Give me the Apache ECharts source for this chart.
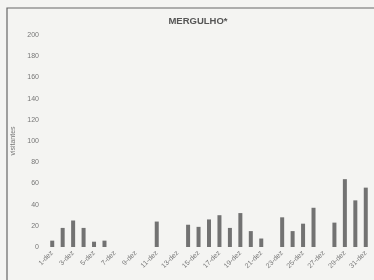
<!DOCTYPE html>
<html>
<head>
<meta charset="utf-8">
<script src="https://cdn.jsdelivr.net/npm/echarts@6/dist/echarts.min.js"></script>
<style>
html,body{margin:0;padding:0;background:#f4f4f2;}
#chart{width:374px;height:280px;}
</style>
</head>
<body>
<div id="chart"></div>
<script>
var days = [];
for (var d = 1; d <= 31; d++) { days.push(d + '-dez'); }
var visitantes = [6, 18, 25, 18, 5, 6, 0, 0, 0, 0, 24, 0, 0, 21, 19, 26, 30, 18, 32, 15, 8, 0, 28, 15, 22, 37, 0, 23, 64, 44, 56];
var yTicks = [0, 200, 20];

var myChart = echarts.init(document.getElementById('chart'));
var option = {
    backgroundColor: '#f4f4f2',
    animation: false,
    title: {
        text: 'MERGULHO*',
        left: 193,
        top: 11,
        textAlign: 'center',
        textStyle: { fontFamily: 'Liberation Sans', fontSize: 9.5, fontWeight: 'bold', color: '#555' }
    },
    graphic: [{
        type: 'rect',
        shape: { x: 7, y: 8, width: 380, height: 290 },
        style: { fill: 'none', stroke: '#666', lineWidth: 1.2 }
    }],
    grid: { left: 47, right: 3, top: 35, bottom: 33 },
    xAxis: {
        type: 'category',
        data: days,
        axisLine: { show: false },
        axisTick: { show: false },
        axisLabel: {
            interval: 1,
            rotate: 45,
            margin: 5,
            fontFamily: 'Liberation Sans',
            fontSize: 7,
            color: '#777'
        }
    },
    yAxis: {
        type: 'value',
        min: yTicks[0],
        max: yTicks[1],
        interval: yTicks[2],
        name: 'visitantes',
        nameLocation: 'middle',
        nameGap: 20,
        nameTextStyle: { fontFamily: 'Liberation Sans', fontSize: 7, color: '#777' },
        axisLine: { show: false },
        axisTick: { show: false },
        splitLine: { show: false },
        axisLabel: { margin: 8, fontFamily: 'Liberation Sans', fontSize: 7, color: '#777' }
    },
    series: [{
        name: 'visitantes',
        type: 'bar',
        data: visitantes,
        barWidth: 4,
        itemStyle: { color: '#727272' }
    }]
};
myChart.setOption(option);
</script>
</body>
</html>
